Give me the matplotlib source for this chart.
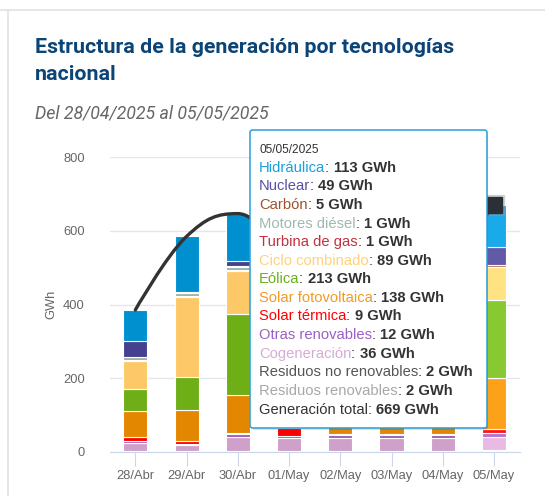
import numpy as np
import matplotlib
matplotlib.use("Agg")
import matplotlib.pyplot as plt
from matplotlib.path import Path
from matplotlib.patches import PathPatch, FancyBboxPatch
from matplotlib.lines import Line2D

# ---- data (GWh) ----
days = ["28/Abr", "29/Abr", "30/Abr", "01/May", "02/May", "03/May", "04/May", "05/May"]

hidraulica = [84, 150, 128, 110, 115, 100, 95, 113]
nuclear = [43, 3, 15, 40, 45, 45, 45, 49]
carbon = [2, 2, 3, 3, 3, 2, 2, 5]
motores_diesel = [7, 7, 7, 6, 6, 6, 6, 1]
turbina_gas = [2, 3, 4, 1, 1, 1, 1, 1]
ciclo_combinado = [77, 216, 117, 60, 70, 50, 45, 89]
eolica = [59, 92, 218, 120, 150, 170, 160, 213]
solar_fv = [72, 84, 103, 150, 150, 140, 145, 138]
solar_termica = [9, 6, 4, 20, 4, 1, 1, 9]
otras_renovables = [6, 4, 8, 7, 7, 9, 9, 12]
cogeneracion = [22, 16, 37, 34, 35, 34, 34, 36]
residuos_no_renov = [1, 1, 2, 2, 2, 2, 2, 2]
residuos_renov = [1, 1, 1, 1, 1, 1, 1, 2]

# bottom -> top
series = [
    ("Residuos renovables", residuos_renov, "#aaaaaa"),
    ("Residuos no renovables", residuos_no_renov, "#555555"),
    ("Cogeneración", cogeneracion, "#cfa0c9"),
    ("Otras renovables", otras_renovables, "#9b59b6"),
    ("Solar térmica", solar_termica, "#ff0000"),
    ("Solar fotovoltaica", solar_fv, "#e38700"),
    ("Eólica", eolica, "#6eae17"),
    ("Ciclo combinado", ciclo_combinado, "#fdc968"),
    ("Turbina de gas", turbina_gas, "#c0313f"),
    ("Motores diésel", motores_diesel, "#98b2a8"),
    ("Carbón", carbon, "#a0522d"),
    ("Nuclear", nuclear, "#46418f"),
    ("Hidráulica", hidraulica, "#0090d0"),
]
total = np.sum([s[1] for s in series], axis=0)

hover_idx = 7
tooltip_title = "05/05/2025"
tooltip_rows = [
    ("Hidráulica", "113 GWh", "#1a9fdc"),
    ("Nuclear", "49 GWh", "#5552a3"),
    ("Carbón", "5 GWh", "#a0522d"),
    ("Motores diésel", "1 GWh", "#9fb9af"),
    ("Turbina de gas", "1 GWh", "#c4303f"),
    ("Ciclo combinado", "89 GWh", "#ffd27a"),
    ("Eólica", "213 GWh", "#6ab01c"),
    ("Solar fotovoltaica", "138 GWh", "#f09b25"),
    ("Solar térmica", "9 GWh", "#ff0000"),
    ("Otras renovables", "12 GWh", "#9b5fc4"),
    ("Cogeneración", "36 GWh", "#d9aad4"),
    ("Residuos no renovables", "2 GWh", "#555555"),
    ("Residuos renovables", "2 GWh", "#a8a8a8"),
    ("Generación total", "669 GWh", "#333333"),
]


def brighten(hexcol, amt=0.1):
    rgb = np.array(matplotlib.colors.to_rgb(hexcol)) + amt
    return tuple(np.clip(rgb, 0, 1))


def spline_path(xs, ys, smoothing=1.5):
    # same construction as Highcharts' spline series
    n = len(xs)
    denom = smoothing + 1
    right = [(xs[0], ys[0])]
    verts = [(xs[0], ys[0])]
    codes = [Path.MOVETO]
    for i in range(1, n):
        px, py = xs[i], ys[i]
        lx, ly = px, py
        if i < n - 1:
            ax_, ay_ = xs[i - 1], ys[i - 1]
            nx, ny = xs[i + 1], ys[i + 1]
            lx = (smoothing * px + ax_) / denom
            ly = (smoothing * py + ay_) / denom
            rx = (smoothing * px + nx) / denom
            ry = (smoothing * py + ny) / denom
            corr = (ry - ly) * (rx - px) / (rx - lx) + py - ry
            ly += corr
            ry += corr
            if ly > ay_ and ly > py:
                ly = max(ay_, py); ry = 2 * py - ly
            elif ly < ay_ and ly < py:
                ly = min(ay_, py); ry = 2 * py - ly
            if ry > ny and ry > py:
                ry = max(ny, py); ly = 2 * py - ry
            elif ry < ny and ry < py:
                ry = min(ny, py); ly = 2 * py - ry
            right.append((rx, ry))
        else:
            right.append((px, py))
        verts += [right[i - 1], (lx, ly), (px, py)]
        codes += [Path.CURVE4] * 3
    return Path(verts, codes)


W, H = 545, 496
fig = plt.figure(figsize=(W / 100, H / 100), dpi=100)
fx = lambda px: px / W
fy = lambda py: 1 - py / H

# card borders
fig.add_artist(Line2D([0, 1], [fy(9.5), fy(9.5)], color="#e2e2e2", lw=1.2))
fig.add_artist(Line2D([fx(8), fx(8)], [fy(10), 0], color="#e2e2e2", lw=1.2))

fig.text(fx(35), fy(53), "Estructura de la generación por tecnologías",
         family="Roboto", weight="bold", fontsize=15.4, color="#0b4476")
fig.text(fx(35), fy(80), "nacional",
         family="Roboto", weight="bold", fontsize=15.4, color="#0b4476")
fig.text(fx(35), fy(118), "Del 28/04/2025 al 05/05/2025",
         family="Roboto", style="italic", fontsize=12.8, color="#666666")

ax = fig.add_axes([fx(109.7), fy(451.7), fx(519.6) - fx(109.7), fy(157.3) - fy(451.7)])
x = np.arange(len(days))
bottom = np.zeros(len(days))
for name, vals, col in series:
    vals = np.array(vals, dtype=float)
    cols = [brighten(col) if i == hover_idx else col for i in range(len(days))]
    ax.bar(x, vals, bottom=bottom, width=0.47, color=cols,
           edgecolor="white", linewidth=0.8, zorder=2)
    bottom += vals

ax.add_patch(PathPatch(spline_path(x.astype(float), total.astype(float)),
                       fill=False, edgecolor="#333333", lw=2.4, zorder=3,
                       capstyle="round"))
ax.plot(x[hover_idx], total[hover_idx], marker="s", ms=15, color="#999999",
        alpha=0.35, zorder=4, clip_on=False)
ax.plot(x[hover_idx], total[hover_idx], marker="s", ms=11.5, color="#2b2f36",
        zorder=5, clip_on=False)

ax.set_xlim(-0.5, len(days) - 0.5)
ax.set_ylim(0, 800)
ax.set_yticks([0, 200, 400, 600, 800])
ax.set_xticks(x)
ax.set_xticklabels(days)
for s in ["top", "right", "left"]:
    ax.spines[s].set_visible(False)
ax.spines["bottom"].set_color("#ccd6eb")
ax.grid(axis="y", color="#e6e6e6", lw=1, zorder=0)
ax.set_axisbelow(True)
ax.tick_params(axis="x", length=10, color="#ccd6eb", labelcolor="#666666",
               labelsize=9.3, pad=3)
ax.tick_params(axis="y", length=0, labelcolor="#666666", labelsize=9.3, pad=18)
for lab in ax.get_xticklabels() + ax.get_yticklabels():
    lab.set_family("Liberation Sans")
ax.set_ylabel("GWh", color="#666666", fontsize=9.3, family="Liberation Sans",
              labelpad=4)

# tooltip
fig.add_artist(FancyBboxPatch((fx(252), fy(430)), fx(488) - fx(252), fy(132) - fy(430),
                              boxstyle="round,pad=0,rounding_size=0.005",
                              facecolor="#000000", edgecolor="none", alpha=0.12,
                              zorder=9))
fig.add_artist(FancyBboxPatch((fx(250), fy(428)), fx(487) - fx(250), fy(130) - fy(428),
                              boxstyle="round,pad=0,rounding_size=0.005",
                              facecolor="white", edgecolor="#2a9fdb", lw=1.1,
                              zorder=10))
fig.text(fx(259), fy(150), tooltip_title, fontsize=8.6, color="#333333",
         family="Liberation Sans", va="center", zorder=11)

fig.canvas.draw()
renderer = fig.canvas.get_renderer()
ty = 167.7
fs = 10.6
for name, val, col in tooltip_rows:
    t1 = fig.text(fx(259), fy(ty), name, fontsize=fs, color=col,
                  family="Liberation Sans", va="center", zorder=11)
    bb = t1.get_window_extent(renderer)
    t2 = fig.text(bb.x1 / fig.dpi / fig.get_figwidth(), fy(ty), ": ", fontsize=fs,
                  color="#333333", family="Liberation Sans", va="center", zorder=11)
    bb2 = t2.get_window_extent(renderer)
    fig.text(bb2.x1 / fig.dpi / fig.get_figwidth(), fy(ty), val, fontsize=fs,
             color="#333333", family="Liberation Sans", weight="bold",
             va="center", zorder=11)
    ty += 18.6

fig.savefig("out.png", dpi=100)
